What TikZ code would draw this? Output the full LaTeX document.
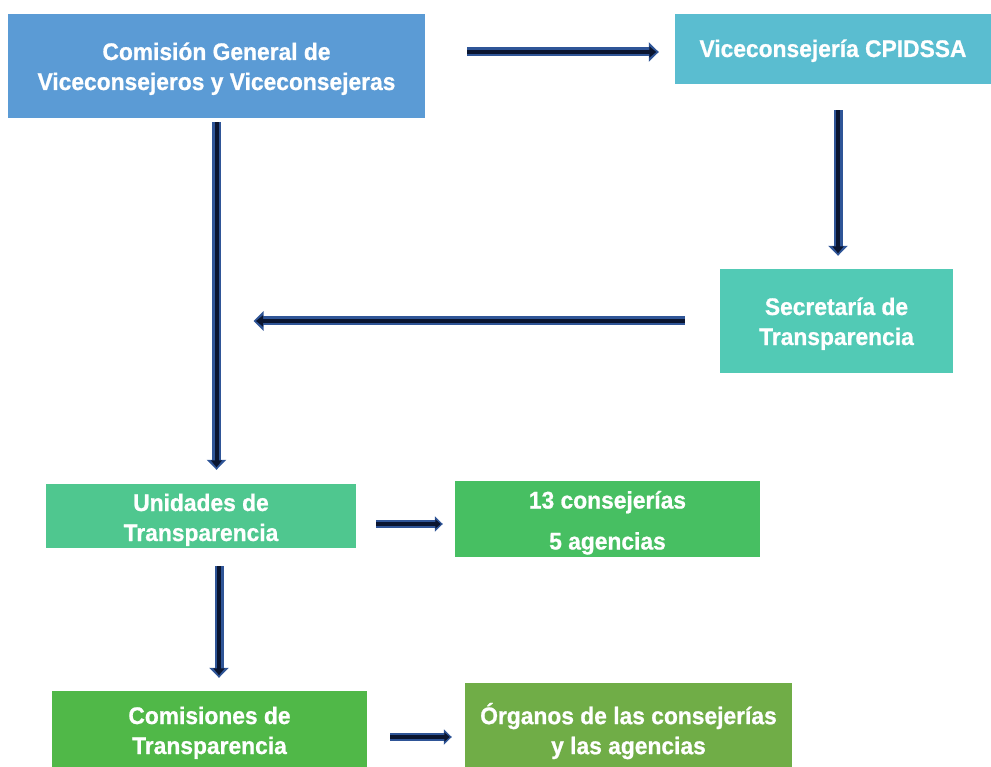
\documentclass[tikz,border=0pt]{standalone}
\usepackage{fontspec}
\setmainfont{Liberation Sans}[FakeStretch=0.95, BoldFeatures={FakeBold=0.8}]
\usetikzlibrary{arrows.meta}
\definecolor{cA}{HTML}{5B9BD5}
\definecolor{cB}{HTML}{5ABDD0}
\definecolor{cC}{HTML}{52CAB5}
\definecolor{cD}{HTML}{4FC78F}
\definecolor{cE}{HTML}{47BF62}
\definecolor{cF}{HTML}{50B848}
\definecolor{cG}{HTML}{70AD47}
\definecolor{arrblue}{HTML}{2F5597}
\definecolor{arrcore}{HTML}{0A1530}
\newcommand{\btxt}[2]{\raisebox{-#1}[\height][\depth]{\begin{tabular}{@{}c@{}}#2\end{tabular}}}
\begin{document}
\begin{tikzpicture}[x=1pt,y=-1pt,
  box/.style={fill=#1, draw=none, inner sep=0pt, text=white,
    font=\bfseries\fontsize{24}{30}\selectfont},
  arr/.style={draw=arrblue, line width=9pt, -{Triangle[length=10pt,width=19pt]},
    postaction={draw=arrcore, line width=4pt, shorten >=2.5pt, -{Triangle[length=7pt,width=11pt]}}},
  arrs/.style={draw=arrblue, line width=7.5pt, -{Triangle[length=8pt,width=15pt]},
    postaction={draw=arrcore, line width=3.2pt, shorten >=2pt, -{Triangle[length=5.5pt,width=9pt]}}}
]
\useasboundingbox (0,0) rectangle (991,767);

\node[box=cA, minimum width=417pt, minimum height=104pt] (cg) at (216.5,66)
  {\btxt{3pt}{Comisión General de\\Viceconsejeros y Viceconsejeras}};
\node[box=cB, minimum width=316pt, minimum height=70pt] (vc) at (833,49)
  {\btxt{2pt}{Viceconsejería CPIDSSA}};
\node[box=cC, minimum width=233pt, minimum height=104pt] (sc) at (836.5,321)
  {\btxt{3pt}{Secretaría de\\Transparencia}};
\node[box=cD, minimum width=310pt, minimum height=64pt] (ut) at (201,516)
  {\btxt{4pt}{Unidades de\\Transparencia}};
\node[box=cE, minimum width=305pt, minimum height=76pt] (cs) at (607.5,519)
  {\btxt{4pt}{13 consejerías\\[11pt]5 agencias}};
\node[box=cF, minimum width=315pt, minimum height=76pt] (cm) at (209.5,729)
  {\btxt{4pt}{Comisiones de\\Transparencia}};
\node[box=cG, minimum width=327pt, minimum height=84pt] (og) at (628.5,725)
  {\btxt{8pt}{Órganos de las consejerías\\y las agencias}};

\coordinate (a1s) at ([xshift=42pt,yshift=-3pt]vc.west -| cg.east);
\coordinate (a1e) at ([xshift=-16pt,yshift=-3pt]vc.west);
\coordinate (a2s) at ([xshift=1.5pt,yshift=-26pt]vc.south -| sc.north);
\coordinate (a2e) at ([xshift=1.5pt,yshift=13pt]sc.north);
\coordinate (a3s) at ([xshift=-35pt]sc.west);
\coordinate (a3e) at ([xshift=37pt]sc.west -| cg.south);
\coordinate (a4s) at ([yshift=-4pt]cg.south);
\coordinate (a4e) at ([yshift=14pt]cg.south |- ut.north);
\coordinate (a5s) at ([xshift=20pt,yshift=-5pt]cs.west -| ut.east);
\coordinate (a5e) at ([xshift=-12pt,yshift=-5pt]cs.west);
\coordinate (a6s) at ([xshift=18pt,yshift=-18pt]ut.south);
\coordinate (a6e) at ([yshift=13pt]a6s |- cm.north);
\coordinate (a7s) at ([xshift=23pt,yshift=-12pt]og.west -| cm.east);
\coordinate (a7e) at ([xshift=-13pt,yshift=-12pt]og.west);

\draw[arr] (a1s) -- (a1e);
\draw[arr] (a2s) -- (a2e);
\draw[arr] (a3s) -- (a3e);
\draw[arr] (a4s) -- (a4e);
\draw[arrs] (a5s) -- (a5e);
\draw[arr] (a6s) -- (a6e);
\draw[arrs] (a7s) -- (a7e);
\end{tikzpicture}
\end{document}
